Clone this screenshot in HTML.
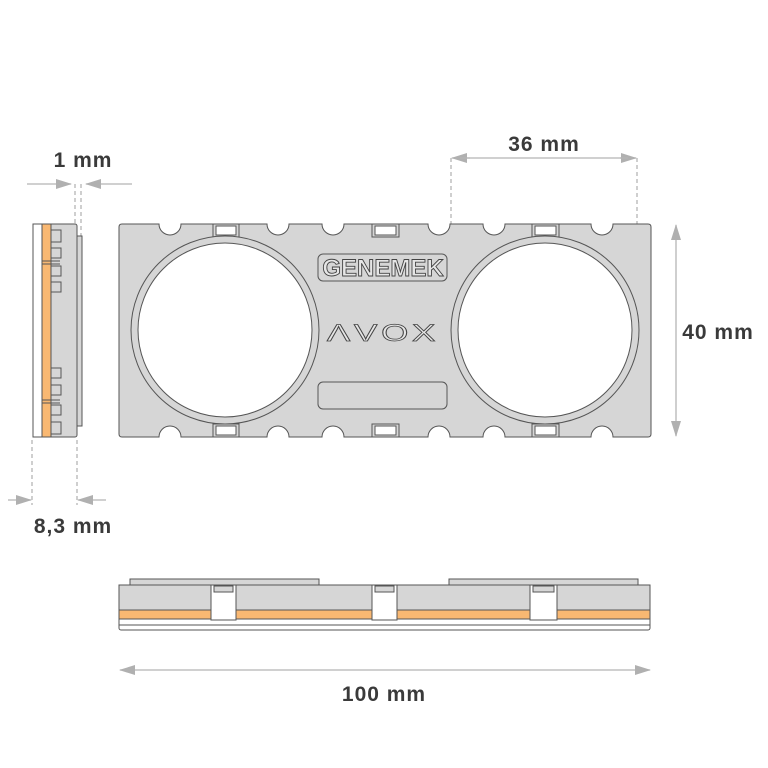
<!DOCTYPE html>
<html><head><meta charset="utf-8"><style>
html,body{margin:0;padding:0;background:#fff;width:768px;height:768px;overflow:hidden}
svg{display:block}
.t{font-family:"Liberation Sans Narrow","Liberation Sans",sans-serif;font-weight:bold;font-size:21px;fill:#3a3a3a;letter-spacing:1px}
</style></head><body>
<svg width="768" height="768" viewBox="0 0 768 768" xmlns="http://www.w3.org/2000/svg">
<defs>
<marker id="ar" markerWidth="16" markerHeight="10" refX="15" refY="5" orient="auto" markerUnits="userSpaceOnUse"><path d="M0,0 L16,5 L0,10 Z" fill="#b0b0b0"/></marker>
</defs>
<g stroke="#b5b5b5" stroke-width="1.3" fill="none">
<line x1="27" y1="184" x2="71" y2="184" marker-end="url(#ar)"/>
<line x1="132" y1="184" x2="86" y2="184" marker-end="url(#ar)"/>
<line x1="75" y1="184" x2="75" y2="226" stroke-dasharray="4,3"/>
<line x1="81" y1="184" x2="81" y2="236" stroke-dasharray="4,3"/>
<line x1="32" y1="440" x2="32" y2="505" stroke-dasharray="4,3"/>
<line x1="77" y1="440" x2="77" y2="505" stroke-dasharray="4,3"/>
<line x1="8" y1="500" x2="31" y2="500" marker-end="url(#ar)"/>
<line x1="106" y1="500" x2="78" y2="500" marker-end="url(#ar)"/>
<line x1="451" y1="158" x2="451" y2="340" stroke-dasharray="4,3"/>
<line x1="637" y1="158" x2="637" y2="340" stroke-dasharray="4,3"/>
<line x1="470" y1="158" x2="452" y2="158" marker-end="url(#ar)"/>
<line x1="620" y1="158" x2="636" y2="158" marker-end="url(#ar)"/>
<line x1="460" y1="158" x2="628" y2="158"/>
<line x1="676" y1="330" x2="676" y2="225" marker-end="url(#ar)"/>
<line x1="676" y1="330" x2="676" y2="436" marker-end="url(#ar)"/>
<line x1="385" y1="670" x2="120" y2="670" marker-end="url(#ar)"/>
<line x1="385" y1="670" x2="650" y2="670" marker-end="url(#ar)"/>
</g>
<text class="t" x="83" y="167" text-anchor="middle">1 mm</text>
<text class="t" x="544" y="151" text-anchor="middle">36 mm</text>
<text class="t" x="718" y="339" text-anchor="middle">40 mm</text>
<text class="t" x="73" y="533" text-anchor="middle">8,3 mm</text>
<text class="t" x="384" y="701" text-anchor="middle">100 mm</text>

<!-- side view -->
<g stroke="#555" stroke-width="1" >
<rect x="77" y="236" width="5" height="190" fill="#d6d6d6"/>
<rect x="33" y="224" width="44" height="213" rx="2" fill="#d6d6d6"/>
<rect x="33" y="224" width="9" height="213" fill="#fff"/>
<rect x="42" y="224" width="9" height="213" fill="#f9b872"/>
<line x1="42" y1="261" x2="60" y2="261"/><line x1="42" y1="264" x2="60" y2="264"/>
<line x1="42" y1="400" x2="60" y2="400"/><line x1="42" y1="403" x2="60" y2="403"/>
<g fill="#d6d6d6">
<rect x="51" y="230" width="10" height="12"/><rect x="51" y="248" width="10" height="10"/>
<rect x="51" y="266" width="10" height="10"/><rect x="51" y="282" width="10" height="10"/>
<rect x="51" y="368" width="10" height="10"/><rect x="51" y="385" width="10" height="10"/>
<rect x="51" y="405" width="10" height="10"/><rect x="51" y="422" width="10" height="12"/>
</g>
</g>

<!-- main plate -->
<path d="M122,224 L159,224 A11,11 0 0 0 181,224 L267,224 A11,11 0 0 0 289,224 L322,224 A11,11 0 0 0 344,224 L428,224 A11,11 0 0 0 450,224 L483,224 A11,11 0 0 0 505,224 L591,224 A11,11 0 0 0 613,224 L648,224 Q651,224 651,227 L651,434 Q651,437 648,437 L613,437 A11,11 0 0 0 591,437 L505,437 A11,11 0 0 0 483,437 L450,437 A11,11 0 0 0 428,437 L344,437 A11,11 0 0 0 322,437 L289,437 A11,11 0 0 0 267,437 L181,437 A11,11 0 0 0 159,437 L122,437 Q119,437 119,434 L119,227 Q119,224 122,224 Z" fill="#d6d6d6" stroke="#555" stroke-width="1"/>
<g stroke="#555" stroke-width="1">
<g fill="#d6d6d6">
<rect x="213" y="224" width="26" height="13"/><rect x="372" y="224" width="27" height="13"/><rect x="532" y="224" width="27" height="13"/>
<rect x="213" y="424" width="26" height="13"/><rect x="372" y="424" width="27" height="13"/><rect x="532" y="424" width="27" height="13"/>
</g>
<g fill="#fff">
<rect x="216" y="226" width="20" height="9"/><rect x="375" y="226" width="21" height="9"/><rect x="535" y="226" width="21" height="9"/>
<rect x="216" y="426" width="20" height="9"/><rect x="375" y="426" width="21" height="9"/><rect x="535" y="426" width="21" height="9"/>
</g>
<circle cx="225" cy="330" r="94" fill="#d6d6d6"/>
<circle cx="225" cy="330" r="87" fill="#fff"/>
<circle cx="545" cy="330" r="94" fill="#d6d6d6"/>
<circle cx="545" cy="330" r="87" fill="#fff"/>
<rect x="318" y="254" width="129" height="27" rx="5" fill="#d6d6d6"/>
<rect x="318" y="382" width="129" height="27" rx="5" fill="#d6d6d6"/>
</g>
<text x="383" y="276" text-anchor="middle" font-family="Liberation Sans Narrow,Liberation Sans,sans-serif" font-weight="bold" font-size="24" fill="#e6e6e6" stroke="#444" stroke-width="0.9">GENEMEK</text>
<text x="383" y="341" text-anchor="middle" font-family="Liberation Sans,sans-serif" font-size="28" letter-spacing="3" fill="#e6e6e6" stroke="#444" stroke-width="0.9" transform="translate(383,0) scale(1.25,0.85) translate(-383,60)">ΛVOX</text>

<!-- bottom view -->
<g stroke="#555" stroke-width="1">
<rect x="130" y="579" width="189" height="7" fill="#d6d6d6"/>
<rect x="449" y="579" width="189" height="7" fill="#d6d6d6"/>
<rect x="119" y="585" width="531" height="45" rx="2" fill="#fff"/>
<rect x="119" y="585" width="531" height="34" fill="#d6d6d6"/>
<rect x="119" y="610" width="531" height="9" fill="#f9b872"/>
<g fill="#fff">
<rect x="211" y="585" width="25" height="35"/>
<rect x="372" y="585" width="25" height="35"/>
<rect x="530" y="585" width="27" height="35"/>
</g>
<g fill="#d6d6d6">
<rect x="214" y="586" width="19" height="6"/>
<rect x="375" y="586" width="19" height="6"/>
<rect x="533" y="586" width="21" height="6"/>
</g>
<line x1="119" y1="625" x2="650" y2="625"/>
</g>
</svg>
</body></html>
